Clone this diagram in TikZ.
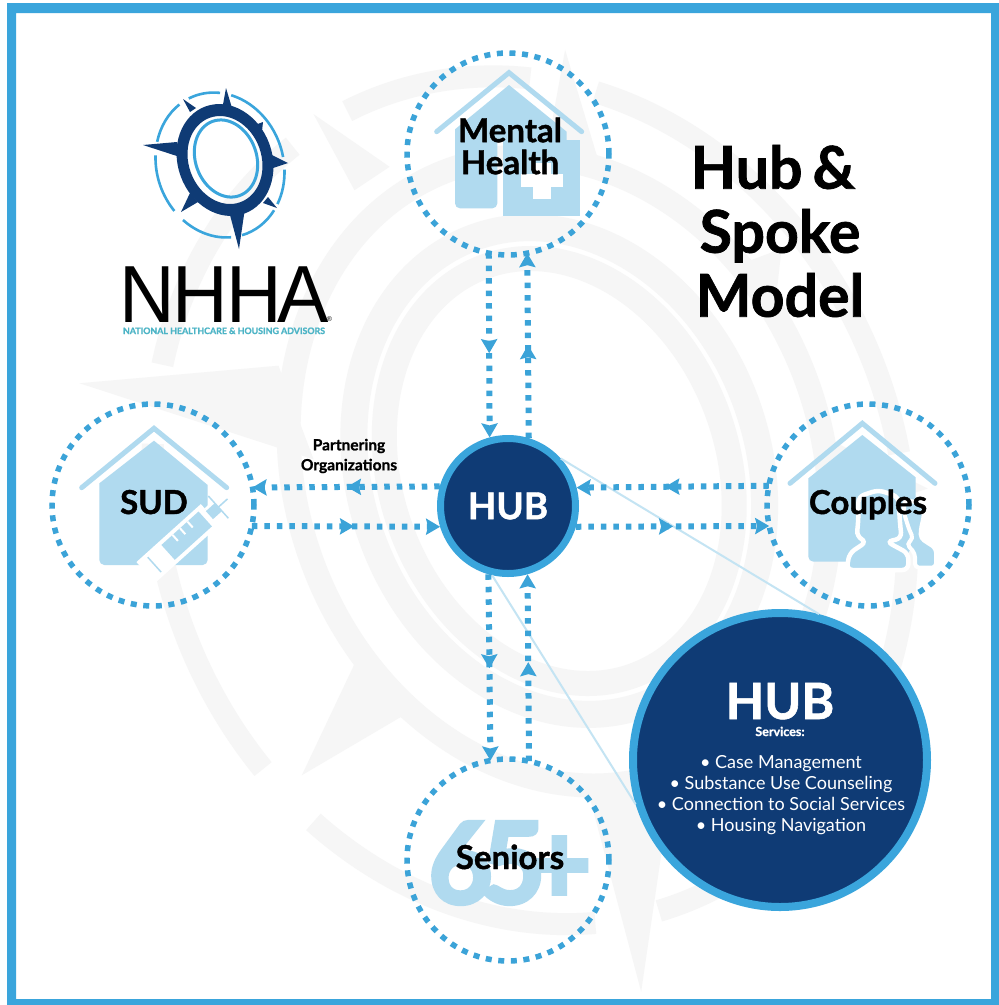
\documentclass[tikz,border=0pt]{standalone}
\usepackage{fontspec}
\usepackage{graphicx}
\setmainfont{Lato}[BoldFeatures={FakeBold=1.2}]
\newfontfamily\heavyf{Lato}[BoldFeatures={FakeBold=4}]
\newfontfamily\arialish{Liberation Sans}
\usetikzlibrary{arrows.meta,decorations.markings,shapes.geometric}
\definecolor{frameblue}{HTML}{3AA5DC}
\definecolor{linkblue}{HTML}{3BA3D8}
\definecolor{navy}{HTML}{0F3B75}
\definecolor{iconblue}{HTML}{B0DAEF}
\definecolor{thinblue}{HTML}{C4E4F3}
\definecolor{wm}{HTML}{F6F6F6}
\definecolor{teal2}{HTML}{4CB4C6}
\newcommand\fsz[1]{\fontsize{#1}{#1}\selectfont}
\newcommand\logospikes[1]{%
  \fill[#1] (226,88)--(222,110)--(232,108)--cycle;
  \fill[#1] (183,99)--(190,112)--(196,108)--cycle;
  \fill[#1] (143,145)--(177,142)--(183,158)--cycle;
  \fill[#1] (288,163)--(268,153)--(273,168)--cycle;
  \fill[#1] (263,122)--(255,125)--(262,131)--cycle;
  \fill[#1] (277,208)--(268,197)--(263,203)--cycle;
  \fill[#1] (239,249)--(230,215)--(245,208)--cycle;
  \fill[#1] (181,212)--(190,193)--(198,202)--cycle;
}
\newcommand\logoarcs[1]{%
  \begin{scope}[shift={(220,165)},rotate=70]
  \foreach \s/\e in {13/58,68/115,126/164,174/203,213/281,291/320,326/363}{
    \draw[#1] (\s:73.6 and 63.2) arc[start angle=\s,end angle=\e,x radius=73.6,y radius=63.2];
  }
  \end{scope}
}
\tikzset{
  spoke/.style={circle,draw=linkblue,line width=5.5pt,dash pattern=on 6pt off 6.6pt,minimum size=202pt,inner sep=0pt,outer sep=0pt},
  hubnode/.style={circle,draw=frameblue,fill=navy,line width=7pt,minimum size=135pt,inner sep=0pt,outer sep=3.5pt,text=white,font=\fsz{37}\bfseries},
  bighub/.style={circle,draw=frameblue,fill=navy,line width=8pt,minimum size=294pt,inner sep=0pt,outer sep=4pt},
  spokelabel/.style={font=\fontsize{33}{32}\selectfont\bfseries,text=black,inner sep=0pt,align=center},
  whitelabel/.style={text=white,inner sep=0pt,align=center},
  roofline/.style={draw=iconblue,line width=5pt,line cap=round,line join=miter},
  link/.style={color=linkblue,line width=6pt,dash pattern=on 5.5pt off 7pt,-{Stealth[length=14pt,width=16pt,inset=2pt]}},
  midtip/.style={postaction={decorate,decoration={markings,mark=at position #1 with {\arrow{Stealth[length=14pt,width=16pt,inset=2pt]}}}}},
  thinline/.style={draw=thinblue,line width=2pt},
}
\begin{document}
\begin{tikzpicture}[x=1pt,y=1pt,yscale=-1]
\useasboundingbox (0,0) rectangle (999,1005);
\fill[white] (0,0) rectangle (999,1005);
% watermark
\begin{scope}[shift={(-757,-465)},scale=5.85]
  \logospikes{wm}
  \logoarcs{wm,line width=22pt}
  \draw[wm,line width=24pt,rotate around={70:(225,160)}] (225,160) ellipse[x radius=54.8,y radius=45];
  \draw[wm,line width=27pt,rotate around={70:(225,160)}] (225,160) ellipse[x radius=42.5,y radius=34];
  \draw[wm,line width=25pt,rotate around={70:(225,160)}] (225,160) ellipse[x radius=37.2,y radius=28.8];
\end{scope}
% frame
\fill[frameblue,even odd rule] (7,3) rectangle (1000,1006) (16,13) rectangle (991,999);
% logo
\logospikes{navy}
\logoarcs{frameblue,line width=2.6pt}
\fill[navy,even odd rule,rotate around={70:(225,160)}] (225,160) ellipse[x radius=57,y radius=47.2] (225,160) ellipse[x radius=44.9,y radius=36.4];
\draw[frameblue,line width=3pt,rotate around={70:(226,158.5)}] (226,158.5) ellipse[x radius=39.5,y radius=30.5];
\node[inner sep=0pt,anchor=base] (nhha) at (224,322) {\scalebox{.95}[1]{\arialish\fsz{81}N\kern-.03emH\kern-.03emH\kern-.06emA}};
\node[inner sep=0pt,anchor=base] (reg) at (329.5,321) {\arialish\fsz{7}®};
\node[inner sep=0pt,anchor=base,text=teal2] (nhhasub) at (224,334) {\resizebox{202pt}{!}{\bfseries NATIONAL HEALTHCARE \& HOUSING ADVISORS}};
% title
\node[inner sep=0pt,align=center,font=\fontsize{59}{64}\selectfont\bfseries,text=black] (title) at (780,231) {Hub\kern.17em\&\kern14pt\\Spoke\\Model};
% Mental Health icon
\begin{scope}[shift={(390,30)},scale=1/3]
  \draw[roofline] (140,305)--(357,128)--(575,305);
  \fill[iconblue] (195,298)--(357,165)--(530,305)--(530,330)--(322,330)[rounded corners=5pt]--(322,535)--(195,535)[sharp corners]--cycle;
  \fill[iconblue] (340,330) rectangle (570,558);
  \fill[white] (392,432) rectangle (520,470);
  \fill[white] (430,400) rectangle (482,507);
\end{scope}
% SUD icon
\begin{scope}[shift={(30,390)},scale=1/3]
  \draw[roofline] (155,293)--(372,115)--(590,293);
  \fill[iconblue] (208,280)--(372,152)--(533,285)[rounded corners=5pt]--(533,525)--(208,525)[sharp corners]--cycle;
  \begin{scope}[shift={(470,437)},rotate=-42]
    \fill[white] (-165,-42) rectangle (95,42);
    \fill[white] (95,-25) rectangle (135,25);
    \fill[iconblue] (-75,-30) rectangle (75,30);
    \fill[iconblue] (92,-16) rectangle (128,16);
    \foreach \t in {-30,0,30}{\fill[white] (\t-3,-30) rectangle (\t+3,-6);}
    \draw[iconblue,line width=1.5pt] (128,-45)--(128,45);
    \draw[iconblue,line width=1.5pt] (128,0)--(165,0);
    \draw[white,line width=2pt] (-95,-35)--(-95,35);
    \draw[iconblue,line width=1.5pt] (-130,-30)--(-130,30);
  \end{scope}
\end{scope}
% Couples icon
\begin{scope}[shift={(750,390)},scale=1/3]
  \draw[roofline] (120,280)--(337,100)--(555,280);
  \fill[iconblue] (175,265)--(337,135)--(497,262)--(497,450)[rounded corners=5pt]--(460,515)--(175,515)[sharp corners]--cycle;
  \path[fill=iconblue,draw=white,line width=4pt,rounded corners=4pt] (495,533)--(495,490)--(470,462)--(490,445)--(478,420)--(462,370)--(462,330)--(520,340)--(522,375)--(512,420)--(512,445)--(558,475)--(558,533)--cycle;
  \path[fill=iconblue,draw=white,line width=4.5pt,rounded corners=6pt] (290,540)--(298,490)--(350,455)--(320,440)--(325,390)--(325,320)--(385,300)--(445,320)--(450,400)--(455,445)--(410,455)--(475,490)--(475,540)--cycle;
\end{scope}
% Seniors icon
\node[inner sep=0pt,anchor=base,text=iconblue] (sixtyfive) at (510,903) {\scalebox{.98}[1]{\heavyf\fsz{112}\bfseries 6\kern-.1em5\kern-.16em+}};
% nodes
\node[spoke] (mh) at (508,154) {};
\node[spoke] (sud) at (153,505) {};
\node[spoke] (cpl) at (868,505) {};
\node[spoke] (snr) at (508,860) {};
\node[hubnode] (hub) at (508,506) {HUB};
\node[bighub] (bh) at (780,760) {};
% thin lines
\draw[thinline] (hub.42) -- (bh.75);
\draw[thinline] (hub.257.5) -- (bh.197.5);
% connectors
\draw[link,midtip=.543] (mh.259.16) -- (hub.105.52);
\draw[link,midtip=.503] (hub.73.64) -- (mh.281.42);
\draw[link,midtip=.505] (hub.254.48) -- (snr.100.84);
\draw[link,midtip=.53] (snr.78.58) -- (hub.286.36);
\draw[link,midtip=.496] (hub.164.48) -- (sud.10.27);
\draw[link,midtip=.543] (sud.-12.58) -- (hub.197.2);
\draw[link,midtip=.539] (cpl.169.73) -- (hub.15.52);
\draw[link,midtip=.503] (hub.-17.2) -- (cpl.192.58);
% labels
\node[spokelabel] (lmh) at (510,146) {Mental\\Health};
\node[spokelabel,anchor=base] (lsud) at (154,514) {SUD};
\node[spokelabel,anchor=base] (lcpl) at (868,514) {Couples};
\node[spokelabel,anchor=base] (lsnr) at (510,869) {Seniors};
\node[inner sep=0pt,align=center,font=\fontsize{15.5}{20}\selectfont\bfseries,text=black] (partner) at (349,456) {Partnering\\Organizations};
\node[whitelabel,anchor=base,font=\fsz{50}\bfseries] (bhub) at (780,719) {HUB};
\node[whitelabel,anchor=base,font=\fsz{12.5}\bfseries] (serv) at (780,736) {Services:};
\node[whitelabel,font=\fontsize{18}{21}\selectfont] (list) at (781,795) {• Case Management\\• Substance Use Counseling\\• Connection to Social Services\\• Housing Navigation};
\end{tikzpicture}
\end{document}
